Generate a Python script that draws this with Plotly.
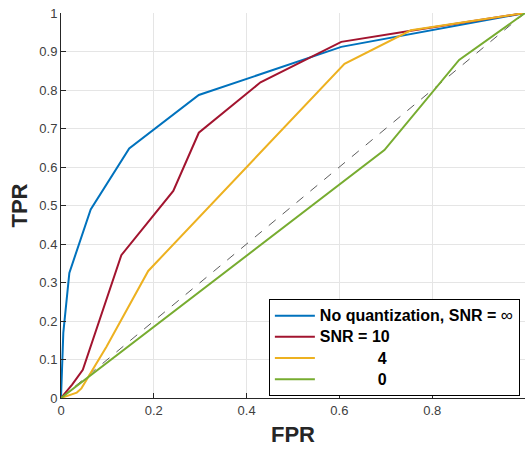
import plotly.graph_objects as go

fpr_noq = [0, 0.005, 0.018, 0.064, 0.147, 0.297, 0.604, 1.0]
tpr_noq = [0, 0.17, 0.325, 0.49, 0.648, 0.787, 0.912, 1.0]

fpr_10 = [0, 0.024, 0.047, 0.130, 0.242, 0.297, 0.43, 0.604, 0.754, 1.0]
tpr_10 = [0, 0.035, 0.073, 0.371, 0.538, 0.689, 0.82, 0.925, 0.954, 1.0]

fpr_4 = [0, 0.034, 0.044, 0.098, 0.188, 0.611, 0.754, 1.0]
tpr_4 = [0, 0.014, 0.025, 0.133, 0.33, 0.868, 0.955, 1.0]

fpr_0 = [0, 0.697, 0.858, 1.0]
tpr_0 = [0, 0.644, 0.878, 1.0]

diag = [0, 1]

S = "<span style='font-size:16px'>"
names = [S + "<b>No quantization, SNR = </b></span><span style='font-size:17px'>∞</span>",
         S + "<b>SNR = 10</b></span>",
         S + "<b>" + "\u00a0" * 13 + "4</b></span>",
         S + "<b>" + "\u00a0" * 13 + "0</b></span>"]
colors = ["#0072BD", "#A2142F", "#EDB120", "#77AC30"]

fig = go.Figure()
fig.add_trace(go.Scatter(x=diag, y=diag, mode="lines", showlegend=False,
                         line=dict(color="#333333", width=0.8, dash="dash")))
for xs, ys, nm, c in zip([fpr_noq, fpr_10, fpr_4, fpr_0],
                         [tpr_noq, tpr_10, tpr_4, tpr_0], names, colors):
    fig.add_trace(go.Scatter(x=xs, y=ys, mode="lines", name=nm,
                             line=dict(color=c, width=2)))

axis_common = dict(showline=True, linecolor="#262626", linewidth=1,
                   ticks="inside", ticklen=5, tickcolor="#262626",
                   showgrid=True, gridcolor="#e5e5e5", gridwidth=1,
                   zeroline=False, mirror=False,
                   tickfont=dict(family="Liberation Sans, Arial", size=13, color="#404040"))

fig.update_xaxes(range=[0, 1], tickvals=[0, 0.2, 0.4, 0.6, 0.8, 1.0],
                 ticktext=["0", "0.2", "0.4", "0.6", "0.8", ""],
                 title=dict(text="<b>FPR</b>", standoff=10,
                            font=dict(family="Liberation Sans, Arial", size=22, color="#262626")),
                 **axis_common)
fig.update_yaxes(range=[0, 1], tickvals=[i / 10 for i in range(11)],
                 ticktext=["0"] + [f"0.{i}" for i in range(1, 10)] + ["1"],
                 title=dict(text="<b>TPR</b>", standoff=5,
                            font=dict(family="Liberation Sans, Arial", size=22, color="#262626")),
                 **axis_common)

fig.update_layout(
    width=525, height=449,
    margin=dict(l=61, r=0, t=13, b=51),
    plot_bgcolor="white", paper_bgcolor="white",
    legend=dict(x=0.448, y=0.257, xanchor="left", yanchor="top",
                bordercolor="#000000", borderwidth=1, bgcolor="white",
                font=dict(family="Liberation Sans, Arial", size=14, color="#000000"),
                tracegroupgap=0, itemwidth=40),
    showlegend=True,
)

fig.write_html("out.html")
